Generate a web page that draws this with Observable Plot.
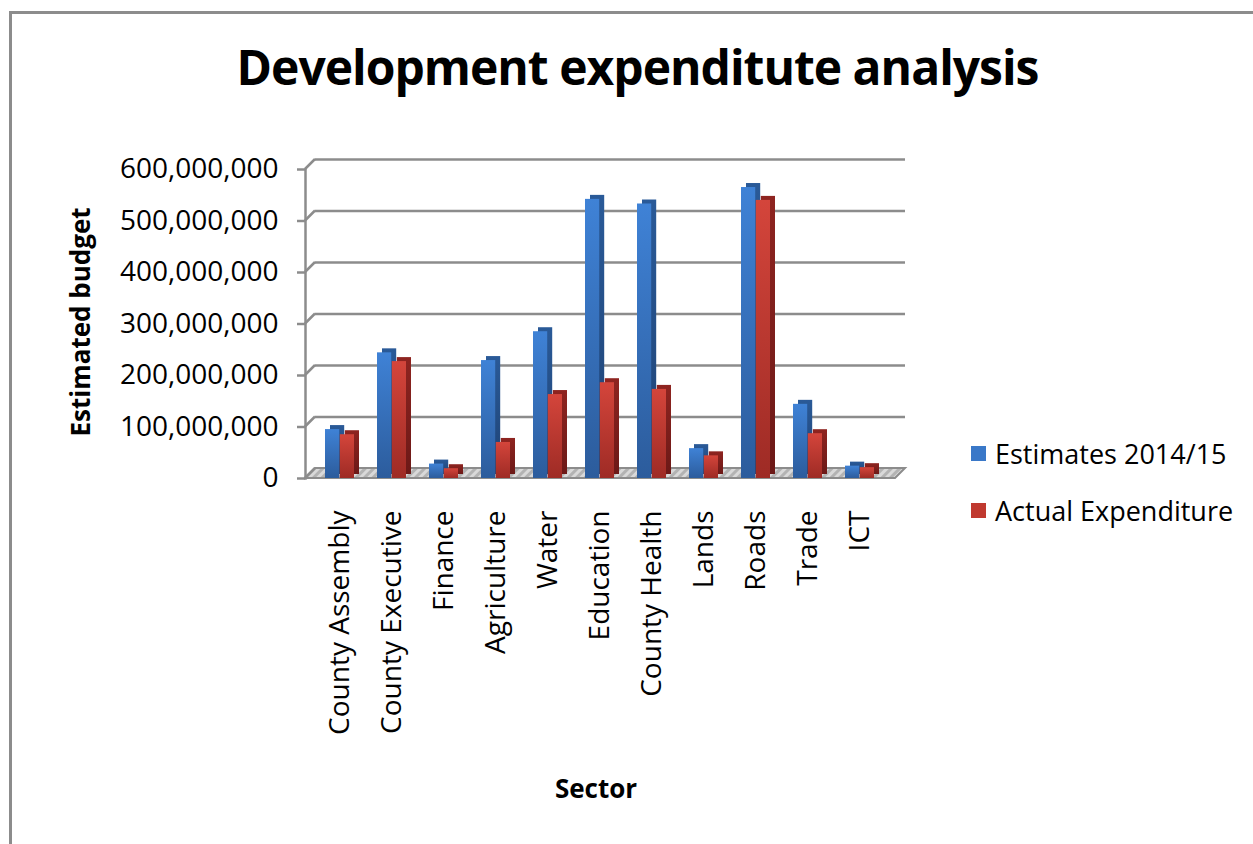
<!DOCTYPE html>
<html>
<head>
<meta charset="utf-8">
<script src="https://cdn.jsdelivr.net/npm/d3@7"></script>
<script src="https://cdn.jsdelivr.net/npm/@observablehq/plot@0.6"></script>
<style>
  html, body { margin: 0; padding: 0; background: #fff; }
  #wrap { position: relative; width: 1253px; height: 844px; overflow: hidden; font-family: "Open Sans", sans-serif; color: #000; }
  #frame { position: absolute; left: 9px; top: 11px; width: 1300px; height: 900px; border-top: 3px solid #8c8c8c; border-left: 3px solid #8c8c8c; }
  #chart { position: absolute; left: 0; top: 0; }
  .title { position: absolute; left: 0; width: 1275px; top: 43px; text-align: center; font-weight: 700; font-size: 48px; letter-spacing: -1px; line-height: 1; }
  .ylab { position: absolute; left: 80px; top: 322px; transform: translate(-50%, -50%) rotate(-90deg); font-weight: 700; font-size: 26px; white-space: nowrap; }
  .xlab { position: absolute; left: 596px; top: 788px; transform: translate(-50%, -50%); font-weight: 700; font-size: 26px; white-space: nowrap; }
  .legend { position: absolute; left: 971px; font-size: 27px; white-space: nowrap; }
  .legend div { position: relative; height: 57px; display: flex; align-items: center; }
  .sw { width: 15px; height: 15px; margin-right: 9px; display: inline-block; }
</style>
</head>
<body>
<div id="wrap">
  <div id="frame"></div>
  <div id="chart"></div>
  <div class="title">Development expenditute analysis</div>
  <div class="ylab">Estimated budget</div>
  <div class="xlab">Sector</div>
  <div class="legend" id="legend" style="top:425px"></div>
</div>
<script>
// ---- data ----
const sectors = ["County Assembly", "County Executive", "Finance", "Agriculture", "Water", "Education", "County Health", "Lands", "Roads", "Trade", "ICT"];
const estimates = [95e6, 244e6, 28e6, 229e6, 285e6, 542e6, 533e6, 58e6, 565e6, 144e6, 24e6];
const actual = [85e6, 227e6, 19e6, 70e6, 163e6, 186e6, 173e6, 44e6, 540e6, 87e6, 21e6];
const seriesNames = ["Estimates 2014/15", "Actual Expenditure"];
const yTicks = [0, 100e6, 200e6, 300e6, 400e6, 500e6, 600e6];

const estData = sectors.map((s, i) => ({sector: s, value: estimates[i]}));
const actData = sectors.map((s, i) => ({sector: s, value: actual[i]}));

const ns = "http://www.w3.org/2000/svg";
const gridColor = "#8c8c8c";
const depth = 10;

// gradient definitions
const defs = () => {
  const g = document.createElementNS(ns, "defs");
  g.innerHTML = `
    <linearGradient id="gBlue" x1="0" y1="0" x2="0" y2="1">
      <stop offset="0" stop-color="#3f82d6"/><stop offset="1" stop-color="#2c5c9c"/>
    </linearGradient>
    <linearGradient id="gRed" x1="0" y1="0" x2="0" y2="1">
      <stop offset="0" stop-color="#d4453b"/><stop offset="1" stop-color="#9e2b25"/>
    </linearGradient>
    <linearGradient id="gBlueSide" x1="0" y1="0" x2="0" y2="1">
      <stop offset="0" stop-color="#2a5a98"/><stop offset="1" stop-color="#1e4274"/>
    </linearGradient>
    <linearGradient id="gRedSide" x1="0" y1="0" x2="0" y2="1">
      <stop offset="0" stop-color="#8e2420"/><stop offset="1" stop-color="#6c1917"/>
    </linearGradient>
    <pattern id="hatch" width="6" height="6" patternUnits="userSpaceOnUse" patternTransform="rotate(45)">
      <rect width="6" height="6" fill="#d9d9d9"/><rect width="3" height="6" fill="#b3b3b3"/>
    </pattern>`;
  return g;
};

// 3D wall: slanted tick connectors, floor
const wall = (index, scales, values, dims) => {
  const g = document.createElementNS(ns, "g");
  const x0 = dims.marginLeft, x1 = dims.width - dims.marginRight;
  const y0 = scales.y(0);
  const floor = document.createElementNS(ns, "path");
  floor.setAttribute("d", `M${x0},${y0}L${x1},${y0}L${x1 + depth},${y0 - depth}L${x0 + depth},${y0 - depth}Z`);
  floor.setAttribute("fill", "url(#hatch)");
  floor.setAttribute("stroke", gridColor);
  floor.setAttribute("stroke-width", 2);
  g.appendChild(floor);
  for (const t of yTicks) {
    const y = scales.y(t);
    const l = document.createElementNS(ns, "line");
    l.setAttribute("x1", x0); l.setAttribute("y1", y);
    l.setAttribute("x2", x0 + depth); l.setAttribute("y2", y - depth);
    l.setAttribute("stroke", gridColor); l.setAttribute("stroke-width", 2.5);
    g.appendChild(l);
  }
  return g;
};

const inset = 14.8;

const plot = Plot.plot({
  width: 1253,
  height: 844,
  marginLeft: 305,
  marginRight: 358,
  marginTop: 169,
  marginBottom: 366,
  style: {fontFamily: "Open Sans, sans-serif", fontSize: "28px", color: "#000", background: "transparent", overflow: "visible"},
  x: {domain: sectors, paddingInner: 0.44, paddingOuter: 0.3, label: null},
  y: {domain: [0, 600e6], label: null},
  marks: [
    defs,
    Plot.ruleY(yTicks.slice(1), {dx: depth, dy: -depth, stroke: gridColor, strokeWidth: 2.5}),
    wall,
    Plot.frame({anchor: "left", stroke: gridColor, strokeWidth: 2.5, strokeOpacity: 1}),
    Plot.axisY({ticks: yTicks, tickFormat: d3.format(","), tickSize: 8, tickPadding: 19, stroke: gridColor, strokeWidth: 2.5, fontSize: 28, label: null}),
    Plot.axisX({tickRotate: -90, tickSize: 0, tickPadding: 32, fontSize: 28, label: null}),
    Plot.barY(estData, {x: "sector", y: "value", insetRight: inset, dx: 5, dy: -4, fill: "url(#gBlueSide)"}),
    Plot.barY(estData, {x: "sector", y: "value", insetRight: inset, fill: "url(#gBlue)"}),
    Plot.barY(actData, {x: "sector", y: "value", insetLeft: inset, dx: 5, dy: -4, fill: "url(#gRedSide)"}),
    Plot.barY(actData, {x: "sector", y: "value", insetLeft: inset, fill: "url(#gRed)"})
  ]
});
document.getElementById("chart").appendChild(plot);

const swatchColors = ["#3a78c8", "#c0392f"];
const legend = document.getElementById("legend");
seriesNames.forEach((name, i) => {
  const row = document.createElement("div");
  row.innerHTML = `<span class="sw" style="background:${swatchColors[i]}"></span><span>${name}</span>`;
  legend.appendChild(row);
});
</script>
</body>
</html>
